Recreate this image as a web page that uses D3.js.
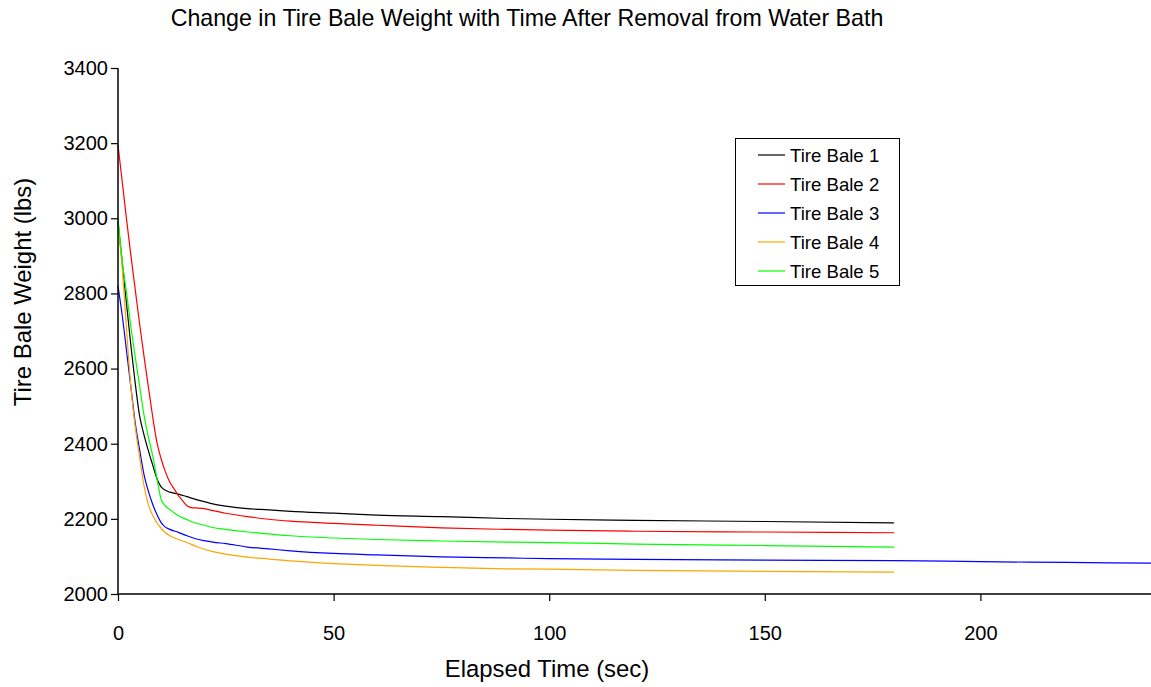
<!DOCTYPE html>
<html>
<head>
<meta charset="utf-8">
<script src="https://cdn.jsdelivr.net/npm/d3@7"></script>
<style>
  html, body { margin: 0; padding: 0; background: #fff; overflow: hidden; }
  svg { display: block; font-family: "Liberation Sans", Arial, sans-serif; }
</style>
</head>
<body>
<svg id="chart" width="1151" height="687"></svg>
<script>
// ---- Data ----
const seriesNames = ["Tire Bale 1", "Tire Bale 2", "Tire Bale 3", "Tire Bale 4", "Tire Bale 5"];
const seriesColors = ["#000000", "#FF0000", "#0000FF", "#FFA500", "#00FF00"];

const timeBale1 = [0,1,2,3,4,5,6,7,8,9,10,11,12,14,16,18,20,22,25,30,35,40,50,60,75,90,100,120,150,180];
const weightBale1 = [2990,2880,2770,2660,2560,2475,2425,2383,2345,2308,2285,2276,2271,2266,2259,2252,2246,2240,2234,2227,2224,2220,2215,2210,2206,2201,2199,2196,2193,2189];

const timeBale2 = [0,1,2,3,4,5,6,7,8,9,10,11,12,13,14,15,16,17,18,20,22,25,30,35,40,50,60,75,90,100,120,150,180];
const weightBale2 = [3195,3095,2995,2900,2810,2720,2635,2555,2475,2405,2360,2325,2298,2280,2262,2248,2235,2230,2229,2227,2222,2215,2206,2199,2194,2188,2183,2176,2172,2170,2167,2165,2163];

const timeBale3 = [0,1,2,3,4,5,6,7,8,9,10,11,12,14,16,18,20,22,25,30,35,40,50,60,75,90,100,120,150,180,200,220,240];
const weightBale3 = [2820,2740,2645,2550,2455,2385,2320,2275,2240,2212,2190,2178,2172,2164,2155,2147,2142,2138,2134,2125,2120,2115,2108,2104,2099,2096,2094,2092,2090,2089,2086,2084,2082];

const timeBale4 = [0,1,2,3,4,5,6,7,8,9,10,11,12,14,16,18,20,22,25,30,35,40,50,60,75,90,100,120,150,180];
const weightBale4 = [2985,2865,2700,2550,2445,2365,2290,2240,2210,2190,2175,2163,2155,2145,2137,2127,2119,2113,2106,2098,2093,2088,2081,2076,2071,2067,2066,2063,2060,2058];

const timeBale5 = [0,1,2,3,4,5,6,7,8,9,10,11,12,13,14,16,18,20,22,25,30,35,40,50,60,75,90,100,120,150,180];
const weightBale5 = [3000,2885,2800,2710,2630,2555,2478,2420,2370,2310,2252,2234,2225,2216,2208,2198,2189,2183,2177,2172,2165,2160,2155,2149,2145,2141,2138,2137,2133,2129,2125];

const xTicks = [0, 50, 100, 150, 200];
const yTicks = [2000, 2200, 2400, 2600, 2800, 3000, 3200, 3400];

const allTimes = [timeBale1, timeBale2, timeBale3, timeBale4, timeBale5];
const allWeights = [weightBale1, weightBale2, weightBale3, weightBale4, weightBale5];

// ---- Layout ----
const svg = d3.select("#chart");
const x = d3.scaleLinear().domain([0, 250]).range([118, 1196]);
const y = d3.scaleLinear().domain([2000, 3400]).range([594, 68]);

// Title
svg.append("text")
  .attr("x", 527).attr("y", 26)
  .attr("text-anchor", "middle")
  .attr("font-size", 23.2)
  .text("Change in Tire Bale Weight with Time After Removal from Water Bath");

// Lines
const line = d3.line()
  .x(d => x(d[0])).y(d => y(d[1]))
  .curve(d3.curveMonotoneX);

seriesNames.forEach((name, i) => {
  const pts = allTimes[i].map((t, j) => [t, allWeights[i][j]]);
  svg.append("path")
    .datum(pts)
    .attr("fill", "none")
    .attr("stroke", seriesColors[i])
    .attr("stroke-width", 1.2)
    .attr("d", line);
});

// Axes
const xAxis = d3.axisBottom(x).tickValues(xTicks).tickSize(7).tickFormat(d3.format("d"));
const yAxis = d3.axisLeft(y).tickValues(yTicks).tickSize(7).tickPadding(3).tickFormat(d3.format("d"));

const gx = svg.append("g").attr("transform", "translate(0,594)").call(xAxis);
const gy = svg.append("g").attr("transform", "translate(118,0)").call(yAxis);
[gx, gy].forEach(g => {
  g.select(".domain").attr("stroke", "#000").attr("stroke-width", 1.5);
  g.selectAll(".tick line").attr("stroke", "#000").attr("stroke-width", 1.2);
  g.selectAll(".tick text").attr("font-size", 20).attr("fill", "#000")
    .attr("font-family", "Liberation Sans, Arial, sans-serif");
});
gx.selectAll(".tick text").attr("y", 46).attr("dy", null);
gx.select(".domain").attr("d", "M118,0H1196");
gy.select(".domain").attr("d", "M0,594V68");

// Axis titles
svg.append("text")
  .attr("x", 547).attr("y", 677)
  .attr("text-anchor", "middle")
  .attr("font-size", 23.9)
  .text("Elapsed Time (sec)");

svg.append("text")
  .attr("transform", "translate(31,292) rotate(-90)")
  .attr("text-anchor", "middle")
  .attr("font-size", 23.9)
  .text("Tire Bale Weight (lbs)");

// Legend
const legend = svg.append("g");
legend.append("rect")
  .attr("x", 735.5).attr("y", 138.5).attr("width", 164).attr("height", 147)
  .attr("fill", "#fff").attr("stroke", "#000").attr("stroke-width", 1);
seriesNames.forEach((name, i) => {
  const ly = 155 + i * 29;
  legend.append("line")
    .attr("x1", 758).attr("x2", 785).attr("y1", ly).attr("y2", ly)
    .attr("stroke", seriesColors[i]).attr("stroke-width", 1.2);
  legend.append("text")
    .attr("x", 790).attr("y", ly + 6.5)
    .attr("font-size", 18.6)
    .text(name);
});
</script>
</body>
</html>
